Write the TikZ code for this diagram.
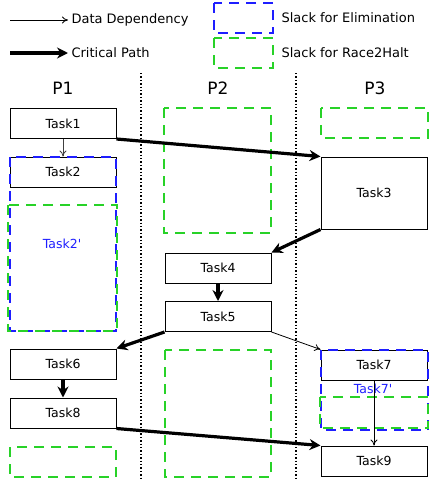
\documentclass[tikz,border=0pt]{standalone}
\usepackage{fontspec}
\setmainfont{DejaVu Sans}
\usetikzlibrary{arrows.meta}
\definecolor{elimblue}{RGB}{30,30,255}
\definecolor{racegreen}{RGB}{40,210,40}
\begin{document}
\begin{tikzpicture}[x=1pt,y=-1pt,
        task/.style={draw, line width=1pt, minimum width=106pt, minimum height=30pt, inner sep=0pt, font=\fontsize{12.5}{15}\selectfont},
        elim/.style={draw=elimblue, line width=1.5pt, dash pattern=on 10pt off 7pt},
        race/.style={draw=racegreen, line width=1.5pt, dash pattern=on 10pt off 7pt},
        dep/.style={-{To[length=6pt,width=7pt]}, line width=0.8pt},
        crit/.style={-{Stealth[length=11pt,width=11pt]}, line width=3.2pt},
        lbl/.style={anchor=west, font=\fontsize{13}{15}\selectfont}]
        \useasboundingbox (0,0) rectangle (429,479);
        % legend
            \coordinate (dd) at (10,20);
            \coordinate (cp) at (10,53);
            \node[lbl] (ddlabel) at (68,20) {Data Dependency};
            \node[lbl] (cplabel) at (68,53) {Critical Path};
            \draw[dep] (dd) -- (ddlabel);
            \draw[crit] (cp) -- (cplabel);
            \draw[elim] (214,3) rectangle (273,33);
            \draw[race] (214,38) rectangle (273,68);
            \node[lbl] (elimlabel) at (278,18) {Slack for Elimination};
            \node[lbl] (racelabel) at (278,53) {Slack for Race2Halt};
        % processors
            \foreach \x/\p in {63/P1,218/P2,375/P3}{
                \node[font=\fontsize{17}{19}\selectfont] (\p) at (\x,88) {\p};
            }
            \foreach \x in {141,296}{
                \draw[dotted, line width=1.4pt] (\x,73) -- (\x,479);
            }
        % tasks
            \foreach \v/\x/\y in {1/63/123.5,2/63/172,4/218/268,5/218/316.5,6/63/364,8/63/413,7/374/365,9/374/461}{
                \node[task] (task\v) at (\x,\y) {Task\v};
            }
            \node[task, minimum height=72pt] (task3) at (374,193) {Task3};
        % slack
            \draw[elim] (10,157) rectangle (116,331);
            \draw[race] (8,205) rectangle (117,331);
            \node[text=elimblue, font=\fontsize{12.5}{15}\selectfont] (task2s) at (62,244) {Task2\textquotesingle};
            \draw[race] (164,108) rectangle (271,233);
            \draw[race] (321,108) rectangle (428,138);
            \draw[race] (165,350) rectangle (271,477);
            \draw[race] (10,447) rectangle (116,477);
            \draw[elim] (321,350) rectangle (428,430);
            \draw[race] (320,397) rectangle (428,428);
            \node[text=elimblue, font=\fontsize{12.5}{15}\selectfont] (task7s) at (373,389) {Task7\textquotesingle};
        % dependencies
            \draw[dep, black!75] (task1) -- (task2);
            \draw[dep] (task5.south east) -- (task7.north west);
            \draw[dep] (task7) -- (task9);
            \draw[crit] (task1.south east) -- (task3.north west);
            \draw[crit] (task3.south west) -- (task4.north east);
            \draw[crit] (task4) -- (task5);
            \draw[crit] (task5.south west) -- (task6.north east);
            \draw[crit] (task6) -- (task8);
            \draw[crit] (task8.south east) -- (task9.north west);
        \end{tikzpicture}
\end{document}
